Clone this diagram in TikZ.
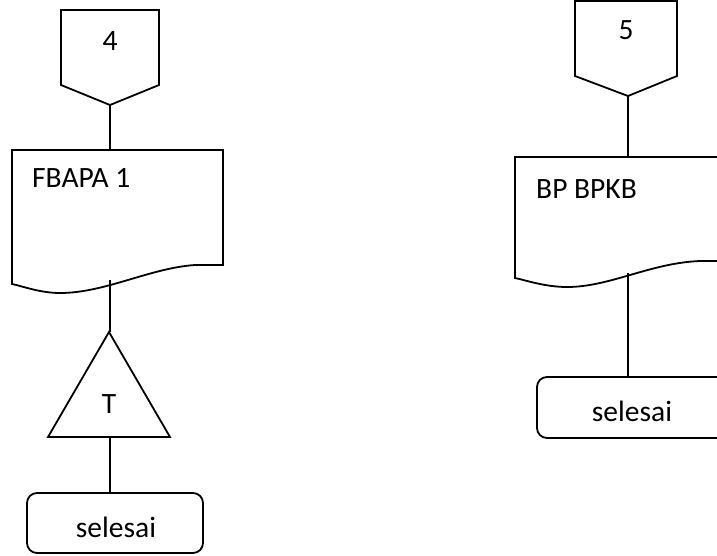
\documentclass[tikz,border=0pt]{standalone}
\usepackage{fontspec}
\setmainfont{Carlito}
\begin{document}
\begin{tikzpicture}[x=1pt,y=-1pt,
  outline/.style={draw=black, line width=1.8pt, line join=miter},
  link/.style={draw=black, line width=1.8pt},
  lbl/.style={font=\fontsize{29.5}{34}\selectfont, text=black, inner sep=0pt},
  terminal/.style={outline, rounded corners=10pt, inner sep=0pt}]
\useasboundingbox (0,0) rectangle (717,555);
\clip (0,0) rectangle (717,555);
\fill[white] (0,0) rectangle (717,555);

% ---------- left column ----------
% off-page connector 4
\draw[outline] (61,10) -- (159,10) -- (159,85) -- (110,105) -- (61,85) -- cycle;
\coordinate (c4tip) at (110,105);
\node[lbl] (c4) at (110,41) {4};

% document FBAPA 1
\draw[outline, fill=white] (12,150) -- (223,150) -- (223,265) -- (195,265)
  .. controls (150,268) and (105,293) .. (60,293)
  .. controls (40,293) and (22,286) .. (12,284) -- cycle;
\coordinate (d1top) at (110,150);
\coordinate (d1bot) at (110,280);
\node[lbl, anchor=west] (d1) at (32,178) {FBAPA 1};

% archive triangle T
\draw[outline] (109,332) -- (170,437) -- (48,437) -- cycle;
\coordinate (t1top) at (110,332);
\coordinate (t1bot) at (110,437);
\node[lbl] (t1) at (109,404) {T};

% terminator
\node[terminal, minimum width=176pt, minimum height=60pt] (e1) at (115,523) {};
\node[lbl] (e1txt) at (116,527) {selesai};

\draw[link] (c4tip) -- (d1top);
\draw[link] (d1bot) -- (t1top);
\draw[link] (t1bot) -- (e1.north -| t1bot);

% ---------- right column ----------
% off-page connector 5
\draw[outline] (575,1) -- (677,1) -- (677,76) -- (628,96) -- (575,76) -- cycle;
\coordinate (c5tip) at (628,96);
\node[lbl] (c5) at (626,30) {5};

% document BP BPKB
\draw[outline, fill=white] (515,157) -- (735,157) -- (735,261) -- (700,261)
  .. controls (650,263) and (610,287) .. (567,287)
  .. controls (545,287) and (525,280) .. (515,278) -- cycle;
\coordinate (d2top) at (628,157);
\coordinate (d2bot) at (628,273);
\node[lbl, anchor=west] (d2) at (536,189) {BP BPKB};

% terminator
\node[terminal, minimum width=190pt, minimum height=61pt] (e2) at (632,407.5) {};
\node[lbl] (e2txt) at (632,411) {selesai};

\draw[link] (c5tip) -- (d2top);
\draw[link] (d2bot) -- (e2.north -| d2bot);
\end{tikzpicture}
\end{document}
